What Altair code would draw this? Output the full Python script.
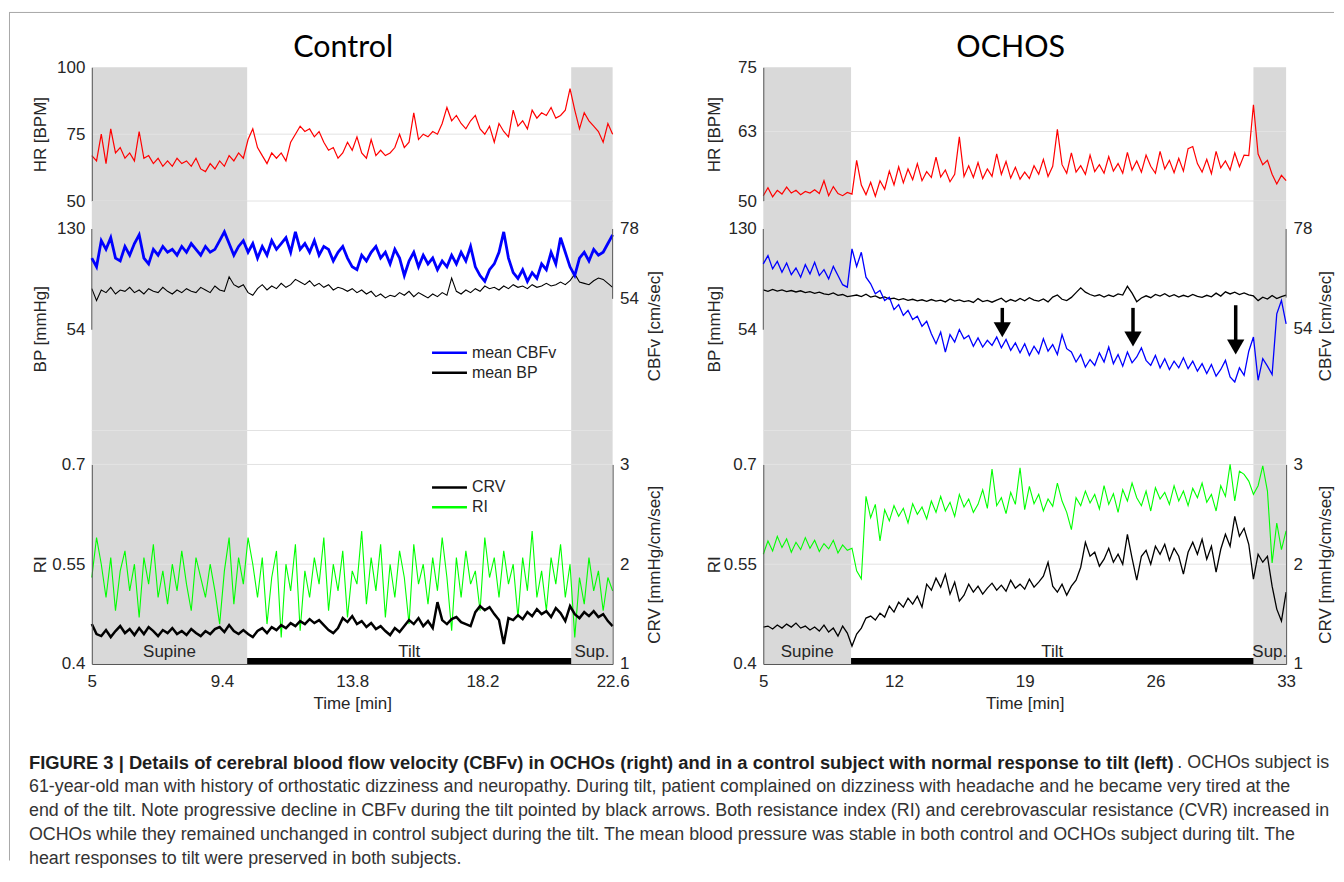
import altair as alt
import pandas as pd

# ---------------- Control subject (left) ----------------
ctrl_t0, ctrl_dt = 5.0, 0.16
ctrl_hr = [67, 65, 75, 64, 77, 68, 70, 66, 68, 65,
           76, 66, 67, 64, 66, 63, 65, 63, 66, 64,
           65, 63, 66, 62, 61, 64, 62, 65, 63, 67,
           65, 68, 66, 73, 77, 70, 67, 64, 68, 66,
           68, 65, 72, 75, 78, 76, 77, 74, 76, 72,
           69, 70, 66, 68, 72, 69, 74, 68, 66, 73,
           67, 69, 67, 68, 70, 75, 70, 72, 83, 73,
           75, 74, 76, 75, 79, 85, 80, 82, 79, 77,
           80, 82, 77, 75, 78, 72, 79, 76, 74, 84,
           78, 80, 77, 84, 81, 83, 82, 85, 81, 82,
           84, 92, 84, 77, 83, 80, 78, 76, 72, 79,
           75]
ctrl_cbfv = [68, 65, 74, 71, 75, 68, 67, 72, 69, 73,
             76, 68, 66, 71, 69, 72, 70, 71, 69, 72,
             70, 73, 71, 69, 72, 70, 71, 74, 77, 73,
             69, 72, 74, 70, 73, 68, 72, 69, 74, 71,
             73, 75, 70, 77, 71, 73, 70, 74, 69, 72,
             71, 67, 70, 72, 68, 65, 64, 69, 67, 70,
             72, 68, 70, 66, 71, 68, 62, 67, 70, 65,
             69, 66, 68, 64, 67, 65, 69, 66, 70, 67,
             72, 65, 62, 60, 64, 66, 70, 77, 68, 63,
             61, 64, 60, 63, 61, 66, 64, 70, 66, 75,
             70, 65, 62, 68, 70, 67, 71, 69, 70, 73,
             76]
ctrl_bp = [85, 76, 84, 82, 86, 81, 84, 83, 86, 82,
           84, 81, 85, 83, 82, 86, 83, 81, 84, 82,
           85, 83, 82, 86, 84, 82, 87, 84, 83, 94,
           88, 86, 88, 82, 80, 85, 88, 84, 87, 85,
           89, 86, 88, 92, 90, 88, 91, 87, 89, 86,
           88, 84, 86, 85, 83, 85, 82, 84, 81, 83,
           79, 81, 78, 80, 79, 82, 80, 83, 79, 82,
           80, 78, 81, 79, 82, 80, 93, 83, 81, 84,
           82, 85, 83, 87, 85, 86, 84, 87, 85, 88,
           86, 87, 85, 88, 86, 87, 89, 87, 88, 90,
           88, 91, 96, 90, 89, 88, 91, 93, 92, 89,
           86]
ctrl_ri = [0.53, 0.59, 0.55, 0.50, 0.56, 0.48, 0.54, 0.57, 0.51, 0.55,
           0.47, 0.56, 0.52, 0.58, 0.50, 0.54, 0.49, 0.55, 0.51, 0.57,
           0.52, 0.48, 0.56, 0.53, 0.50, 0.55, 0.51, 0.46, 0.54, 0.59,
           0.49, 0.56, 0.52, 0.59, 0.55, 0.50, 0.56, 0.46, 0.53, 0.57,
           0.44, 0.55, 0.51, 0.58, 0.45, 0.54, 0.50, 0.56, 0.52, 0.59,
           0.48, 0.55, 0.51, 0.57, 0.47, 0.54, 0.52, 0.60, 0.49, 0.56,
           0.51, 0.58, 0.47, 0.55, 0.50, 0.57, 0.53, 0.46, 0.58, 0.52,
           0.55, 0.49, 0.56, 0.51, 0.59, 0.53, 0.45, 0.56, 0.50, 0.57,
           0.52, 0.54, 0.48, 0.59, 0.53, 0.56, 0.50, 0.57, 0.52, 0.55,
           0.47, 0.56, 0.51, 0.60, 0.50, 0.54, 0.48, 0.56, 0.52, 0.58,
           0.50, 0.55, 0.44, 0.53, 0.49, 0.56, 0.51, 0.54, 0.48, 0.53,
           0.51]
ctrl_crv = [1.40, 1.30, 1.28, 1.34, 1.27, 1.33, 1.38, 1.31, 1.35, 1.29,
            1.36, 1.30, 1.37, 1.33, 1.28, 1.34, 1.31, 1.36, 1.30, 1.33,
            1.29, 1.35, 1.31, 1.28, 1.33, 1.30, 1.35, 1.37, 1.32, 1.39,
            1.33, 1.30, 1.34, 1.30, 1.27, 1.33, 1.36, 1.31, 1.37, 1.34,
            1.39, 1.36, 1.41, 1.38, 1.43, 1.40, 1.45, 1.41, 1.44, 1.39,
            1.34, 1.31, 1.36, 1.46, 1.42, 1.48, 1.40, 1.43, 1.37, 1.41,
            1.35, 1.38, 1.33, 1.29, 1.36, 1.32, 1.38, 1.44, 1.40, 1.46,
            1.38, 1.43, 1.36, 1.62, 1.44, 1.40, 1.45, 1.47, 1.42, 1.40,
            1.38, 1.52, 1.58, 1.54, 1.57, 1.50, 1.44, 1.20, 1.46, 1.44,
            1.49, 1.45, 1.52, 1.48, 1.55, 1.50, 1.53, 1.47, 1.56, 1.51,
            1.43, 1.58, 1.50, 1.46, 1.52, 1.48, 1.53, 1.47, 1.50, 1.43,
            1.38]
ctrl_phase_name = ["Supine", "Tilt", "Sup."]
ctrl_phase_start = [5.0, 10.25, 21.2]
ctrl_phase_end = [10.25, 21.2, 22.6]

# ---------------- OCHOS subject (right) ----------------
och_t0, och_dt = 5.0, 0.25
och_hr = [51, 52.5, 50.8, 52, 51.3, 52.6, 51.5, 52, 51.2, 51.8,
          51.5, 52.1, 51.4, 53.8, 51, 52.7, 51.4, 51, 51.6, 51.3,
          57.6, 53, 51.2, 53.5, 50.9, 53.8, 52.2, 55.6, 53, 56.4,
          53.4, 56, 54, 57, 53.8, 55.5, 54.4, 58.2, 54.5, 55.8,
          53.6, 55, 62, 54.6, 56.6, 54.4, 57.2, 54.2, 56, 54.6,
          58.8, 55, 57.4, 54.3, 56.3, 54.1, 55.4, 54.2, 56.6, 55,
          57.8, 54.6, 56.5, 63.4, 56.8, 55.2, 59, 55.4, 56.6, 55,
          58.6, 55.5, 56.8, 55.2, 58.3, 55.6, 57, 55.2, 59.1, 55.8,
          57.5, 55.4, 58.6, 56.5, 55.2, 59.3, 56, 57.6, 55.3, 58,
          55.6, 59.8, 60.2, 57, 55.4, 57.8, 55.1, 59.3, 56.2, 57.5,
          55.8, 59, 56.4, 58.6, 58.5, 68, 58.8, 56.8, 57.6, 55,
          53.2, 54.8, 53.8]
och_cbfv = [69.6, 71.6, 68.4, 70.2, 67.6, 69.8, 67, 68.6, 66.4, 69.4,
            67.2, 70, 66.8, 68.2, 66, 69, 66.8, 64.6, 64, 73.2,
            69, 72.4, 66.4, 64.8, 62.4, 63.2, 60.8, 61.6, 58.6, 59.8,
            57.2, 58.4, 56.2, 57, 54.6, 55.8, 52.8, 50.4, 53.2, 48.4,
            52.6, 50.8, 53.8, 51.6, 52.4, 49.8, 51.8, 49.6, 51.2, 50,
            52, 49.4, 51.4, 48.8, 50.6, 48.2, 50.4, 47.6, 49.8, 48,
            51.6, 48.6, 50.2, 47.8, 52.6, 49.2, 48.4, 46, 47.8, 44.8,
            46.6, 45.2, 48.2, 46, 49.6, 45.6, 47.8, 45, 48.4, 45.8,
            47.2, 49.4, 46.4, 45.2, 47.6, 44.6, 46.8, 44.2, 46.2, 44.6,
            47, 44.4, 46.2, 43.8, 45.6, 43.2, 45.4, 42.6, 44.2, 46.4,
            42.4, 41.2, 44.6, 42.8, 48.6, 52, 41.6, 46.8, 45, 43,
            57.6, 60.8, 55.2]
och_bp = [84, 83, 84.5, 83.2, 84, 82.8, 83.6, 82.5, 83.4, 82,
          82.8, 81.5, 82.4, 81, 80.5, 81.8, 80, 80.6, 79, 79.6,
          80.2, 79, 80.8, 78.6, 79.5, 77.8, 78.8, 77.2, 77.8, 76.6,
          77.4, 76.2, 77, 75.8, 76.6, 75.4, 76.8, 75.6, 76.3, 75,
          77.2, 75.6, 76.5, 75.2, 76, 74.6, 77.5, 75.2, 76.2, 74.8,
          76.4, 77.8, 75, 76.8, 75.4, 77.6, 75.8, 78.2, 76.4, 75.6,
          77.2, 75, 78.6, 80.2, 77, 76, 78.4, 82, 85.6, 82.4,
          80.6, 79.4, 80.4, 78.6, 80.2, 79, 81, 80.2, 86.8, 81.6,
          75.2, 78, 79.6, 78.2, 80.6, 79.4, 81.2, 79, 80.4, 78.6,
          80, 78.8, 80.6, 79.2, 78.4, 80, 78.8, 81.6, 79.4, 82.6,
          81, 82.4, 80.6, 81.8, 80.4, 79.5, 76, 78.6, 77.2, 79.8,
          77.5, 79, 80.2]
och_ri = [0.565, 0.585, 0.570, 0.592, 0.575, 0.588, 0.568, 0.583, 0.572, 0.590,
          0.574, 0.586, 0.569, 0.581, 0.573, 0.586, 0.567, 0.579, 0.571, 0.574,
          0.540, 0.528, 0.652, 0.620, 0.640, 0.585, 0.632, 0.615, 0.638, 0.622,
          0.634, 0.612, 0.641, 0.625, 0.636, 0.618, 0.645, 0.628, 0.652, 0.630,
          0.643, 0.622, 0.655, 0.636, 0.648, 0.628, 0.640, 0.662, 0.634, 0.693,
          0.638, 0.650, 0.626, 0.658, 0.640, 0.695, 0.632, 0.667, 0.641, 0.655,
          0.630, 0.648, 0.637, 0.672, 0.645, 0.628, 0.602, 0.650, 0.638, 0.660,
          0.642, 0.655, 0.633, 0.668, 0.640, 0.656, 0.628, 0.662, 0.645, 0.672,
          0.650, 0.638, 0.660, 0.630, 0.665, 0.648, 0.658, 0.640, 0.668, 0.645,
          0.660, 0.638, 0.664, 0.650, 0.672, 0.643, 0.655, 0.630, 0.668, 0.652,
          0.700, 0.645, 0.690, 0.685, 0.675, 0.655, 0.668, 0.698, 0.660, 0.552,
          0.612, 0.572, 0.600]
och_crv = [1.37, 1.38, 1.35, 1.39, 1.36, 1.40, 1.37, 1.41, 1.36, 1.38,
           1.34, 1.37, 1.33, 1.39, 1.32, 1.36, 1.28, 1.38, 1.31, 1.18,
           1.30, 1.36, 1.46, 1.48, 1.44, 1.51, 1.47, 1.58, 1.52, 1.62,
           1.57, 1.66, 1.60, 1.68, 1.57, 1.80, 1.74, 1.86, 1.77, 1.90,
           1.70, 1.82, 1.63, 1.69, 1.80, 1.72, 1.78, 1.70, 1.76, 1.81,
           1.74, 1.79, 1.73, 1.84, 1.76, 1.80, 1.75, 1.85, 1.77, 1.82,
           1.88, 2.02, 1.78, 1.72, 1.80, 1.69, 1.78, 1.84, 1.97, 2.22,
           2.08, 2.12, 1.98, 2.05, 2.16, 2.02, 2.10, 2.00, 2.30, 2.06,
           1.84, 2.08, 2.14, 2.00, 2.18, 2.10, 2.20, 2.04, 2.16, 2.08,
           1.90, 2.12, 2.22, 2.10, 2.25, 2.05, 2.18, 1.92, 2.15, 2.30,
           2.18, 2.48, 2.28, 2.36, 2.20, 1.85, 2.10, 2.02, 2.08, 1.78,
           1.55, 1.43, 1.72]
och_phase_name = ["Supine", "Tilt", "Sup."]
och_phase_start = [5.0, 9.7, 31.25]
och_phase_end = [9.7, 31.25, 33.0]
och_arrow_t = [17.8, 24.8, 30.3]
och_arrow_top = [70.5, 70.5, 72.5]
och_arrow_head = [54.0, 47.0, 41.0]

# ---------------- axis ticks / labels ----------------
ctrl_x_ticks = [5, 9.4, 13.8, 18.2, 22.6]
och_x_ticks = [5, 12, 19, 26, 33]
ctrl_hr_ticks = [50, 75, 100]
och_hr_ticks = [50, 63, 75]
ctrl_hr_grid = [50, 75]
och_hr_grid = [50, 63]
bp_ticks = [54, 130]
cbfv_ticks = [54, 78]
ri_ticks = [0.4, 0.55, 0.7]
ri_grid = [0.55, 0.7]
crv_ticks = [1, 2, 3]

caption_bold = ("FIGURE 3 | Details of cerebral blood flow velocity (CBFv) in OCHOs (right) "
                "and in a control subject with normal response to tilt (left)")
caption_tail = ". OCHOs subject is"
caption_lines = [
    "61-year-old man with history of orthostatic dizziness and neuropathy. During tilt, patient complained on dizziness with headache and he became very tired at the",
    "end of the tilt. Note progressive decline in CBFv during the tilt pointed by black arrows. Both resistance index (RI) and cerebrovascular resistance (CVR) increased in",
    "OCHOs while they remained unchanged in control subject during the tilt. The mean blood pressure was stable in both control and OCHOs subject during tilt. The",
    "heart responses to tilt were preserved in both subjects.",
]

# ---------------- styling ----------------
FONT = "Liberation Sans"
TXT = "#262626"
SHADE = "#d9d9d9"
GRID = "#e2e2e2"
AXC = "#555555"
H_HR, H_BP, H_RI = 134, 264, 200
ONE = pd.DataFrame({"a": [0]})
LABEL_EXPR = "'' + datum.value"


def yaxis(title, values, orient, tx, ty, domain=True):
    return alt.Axis(values=values, title=title, orient=orient, ticks=False, tickSize=0,
                    labelPadding=7, labelFont=FONT, labelFontSize=17, labelColor=TXT,
                    labelExpr=LABEL_EXPR,
                    titleFont=FONT, titleFontSize=17, titleFontWeight="normal",
                    titleColor=TXT, titleX=tx, titleY=ty, titleAngle=270,
                    titleAlign="center", titleBaseline="middle", grid=False,
                    domain=domain, domainColor=AXC, zindex=1)


def panels(c):
    n = len(c["hr"])
    t = [c["t0"] + i * c["dt"] for i in range(n)]
    df = pd.DataFrame({"t": t, "hr": c["hr"], "bp": c["bp"], "cbfv": c["cbfv"],
                       "ri": c["ri"], "crv": c["crv"]})
    ph = pd.DataFrame({"name": c["ph_name"], "start": c["ph_start"], "end": c["ph_end"]})
    ph["mid"] = (ph["start"] + ph["end"]) / 2
    W = c["W"]
    xs = alt.Scale(domain=c["xdom"], nice=False, zero=False)

    def xn(f):
        return alt.X(f, type="quantitative", scale=xs, axis=None)

    def shade(H, xenc):
        return (alt.Chart(ph).transform_filter("datum.name != 'Tilt'")
                .mark_rect(color=SHADE)
                .encode(x=xenc("start"), x2="end", y=alt.value(0), y2=alt.value(H)))

    # ---- HR panel ----
    hr_sc = alt.Scale(domain=c["hr_dom"], nice=False, zero=False)
    hr_ax = yaxis("HR [BPM]", c["hr_ticks"], "left", c["tx_l"], H_HR / 2)

    def hy(f):
        return alt.Y(f, type="quantitative", scale=hr_sc, axis=hr_ax)

    hr_layers = [
        shade(H_HR, xn),
        alt.Chart(pd.DataFrame({"g": c["hr_grid"]})).mark_rule(color=GRID).encode(y=hy("g")),
        alt.Chart(df).mark_line(color="#ff0000", strokeWidth=1.2).encode(x=xn("t"), y=hy("hr")),
        alt.Chart(ONE).mark_text(text=c["title"], font="Lato", fontSize=30.5, color="#000000",
                                 baseline="middle", align="center")
        .encode(x=alt.value(c["title_x"]), y=alt.value(-19)),
    ]
    if c["frame"]:
        hr_layers.append(alt.Chart(ONE).mark_rule(color="#a8a8a8").encode(
            x=alt.value(-83), x2=alt.value(1245), y=alt.value(-55)))
        hr_layers.append(alt.Chart(ONE).mark_rule(color="#a8a8a8").encode(
            x=alt.value(-82.5), y=alt.value(-55), y2=alt.value(795)))
    hr_panel = alt.layer(*hr_layers).properties(width=W, height=H_HR)

    # ---- BP / CBFv panel ----
    bp_sc = alt.Scale(domain=[-47.6, 151.1], nice=False, zero=False)
    bp_ax = yaxis("BP [mmHg]", bp_ticks, "left", c["tx_l"], 128, domain=False)
    cb_sc = alt.Scale(domain=c["cbfv_dom"], nice=False, zero=False)
    cb_ax = yaxis("CBFv [cm/sec]", cbfv_ticks, "right", c["tx_r"], 125, domain=False)

    def by(f):
        return alt.Y(f, type="quantitative", scale=bp_sc, axis=bp_ax)

    def cy(f):
        return alt.Y(f, type="quantitative", scale=cb_sc, axis=cb_ax)

    left = [
        shade(H_BP, xn),
        alt.Chart(ONE).mark_rule(color=GRID).encode(x=alt.value(0), x2=alt.value(W), y=alt.value(230)),
        alt.Chart(df).mark_line(color="#000000", strokeWidth=c["lw_bp"]).encode(x=xn("t"), y=by("bp")),
        alt.Chart(pd.DataFrame({"lo": [bp_ticks[0]], "hi": [bp_ticks[1]]})).mark_rule(color=AXC)
        .encode(x=alt.value(0), y=by("lo"), y2="hi"),
    ]
    if c["arrows"]:
        ar = pd.DataFrame({"t": och_arrow_t, "top": och_arrow_top, "head": och_arrow_head})
        left.append(alt.Chart(ar).mark_rule(color="#000000", strokeWidth=3.5)
                    .encode(x=xn("t"), y=by("top"), y2="head"))
        left.append(alt.Chart(ar).mark_point(shape="triangle-down", filled=True, size=300,
                                             color="#000000", opacity=1)
                    .encode(x=xn("t"), y=by("head")))
    if c["legend"]:
        for ypix, col, lw, lab in [(152, "#0000ff", 2.5, "mean CBFv"), (172, "#000000", 2.5, "mean BP")]:
            left.append(alt.Chart(ONE).mark_rule(color=col, strokeWidth=lw).encode(
                x=alt.value(341), x2=alt.value(376), y=alt.value(ypix)))
            left.append(alt.Chart(ONE).mark_text(text=lab, align="left", baseline="middle",
                                                 font=FONT, fontSize=16, color=TXT)
                        .encode(x=alt.value(381), y=alt.value(ypix)))
    right = [
        alt.Chart(df).mark_line(color="#0000ff", strokeWidth=c["lw_cbfv"]).encode(x=xn("t"), y=cy("cbfv")),
        alt.Chart(pd.DataFrame({"lo": [c["cbfv_br"][0]], "hi": [c["cbfv_br"][1]]})).mark_rule(color=AXC)
        .encode(x=alt.value(W), y=cy("lo"), y2="hi"),
    ]
    bp_panel = (alt.layer(alt.layer(*left), alt.layer(*right))
                .resolve_scale(y="independent").properties(width=W, height=H_BP))

    # ---- RI / CRV panel ----
    x_ax = alt.Axis(values=c["xticks"], labelExpr=LABEL_EXPR, title="Time [min]", ticks=False,
                    tickSize=0, labelPadding=10, labelFont=FONT, labelFontSize=17, labelColor=TXT,
                    labelFlush=False, titleFont=FONT, titleFontSize=17, titleFontWeight="normal",
                    titleColor=TXT, titleY=40, titleBaseline="middle", grid=False,
                    domainColor=AXC, zindex=1)

    def xa(f):
        return alt.X(f, type="quantitative", scale=xs, axis=x_ax)

    ri_sc = alt.Scale(domain=[0.4, 0.7], nice=False, zero=False)
    ri_ax = yaxis("RI", ri_ticks, "left", c["tx_l"], H_RI / 2)
    crv_sc = alt.Scale(domain=[1, 3], nice=False, zero=False)
    crv_ax = yaxis("CRV [mmHg/cm/sec]", crv_ticks, "right", c["tx_r"], H_RI / 2)

    def ry(f):
        return alt.Y(f, type="quantitative", scale=ri_sc, axis=ri_ax)

    def vy(f):
        return alt.Y(f, type="quantitative", scale=crv_sc, axis=crv_ax)

    left2 = [
        shade(H_RI, xa),
        alt.Chart(pd.DataFrame({"g": ri_grid})).mark_rule(color=GRID).encode(y=ry("g")),
        alt.Chart(df).mark_line(color="#00ff00", strokeWidth=1.1).encode(x=xa("t"), y=ry("ri")),
        alt.Chart(ph).transform_filter("datum.name == 'Tilt'").mark_rect(color="#000000")
        .encode(x=xa("start"), x2="end", y=alt.value(194), y2=alt.value(200)),
        alt.Chart(ph).mark_text(font=FONT, fontSize=17, color=TXT, baseline="middle")
        .encode(x=xa("mid"), y=alt.value(188), text="name:N"),
    ]
    if c["legend"]:
        for ypix, col, lw, lab in [(23, "#000000", 2.5, "CRV"), (43, "#00ff00", 2.5, "RI")]:
            left2.append(alt.Chart(ONE).mark_rule(color=col, strokeWidth=lw).encode(
                x=alt.value(341), x2=alt.value(376), y=alt.value(ypix)))
            left2.append(alt.Chart(ONE).mark_text(text=lab, align="left", baseline="middle",
                                                  font=FONT, fontSize=16, color=TXT)
                         .encode(x=alt.value(381), y=alt.value(ypix)))
    right2 = [alt.Chart(df).mark_line(color="#000000", strokeWidth=c["lw_crv"]).encode(x=xa("t"), y=vy("crv"))]
    ri_panel = (alt.layer(alt.layer(*left2), alt.layer(*right2))
                .resolve_scale(y="independent").properties(width=W, height=H_RI))

    return hr_panel, bp_panel, ri_panel


ctrl_cfg = dict(t0=ctrl_t0, dt=ctrl_dt, hr=ctrl_hr, bp=ctrl_bp, cbfv=ctrl_cbfv, ri=ctrl_ri, crv=ctrl_crv,
                ph_name=ctrl_phase_name, ph_start=ctrl_phase_start, ph_end=ctrl_phase_end,
                W=522, xdom=[5, 22.6], xticks=ctrl_x_ticks, hr_dom=[50, 100], hr_ticks=ctrl_hr_ticks,
                hr_grid=ctrl_hr_grid, cbfv_dom=[-2.9, 87.6], cbfv_br=[54, 78], tx_l=-51, tx_r=42,
                title="Control", title_x=252, lw_bp=1.1, lw_cbfv=2.8, lw_crv=2.5,
                legend=True, arrows=False, frame=True)
och_cfg = dict(t0=och_t0, dt=och_dt, hr=och_hr, bp=och_bp, cbfv=och_cbfv, ri=och_ri, crv=och_crv,
               ph_name=och_phase_name, ph_start=och_phase_start, ph_end=och_phase_end,
               W=524, xdom=[5, 33], xticks=och_x_ticks, hr_dom=[50, 75], hr_ticks=och_hr_ticks,
               hr_grid=och_hr_grid, cbfv_dom=[21.36, 84.72], cbfv_br=[61.5, 78], tx_l=-49, tx_r=39,
               title="OCHOS", title_x=248, lw_bp=1.3, lw_cbfv=1.3, lw_crv=1.3,
               legend=False, arrows=True, frame=False)

hrL, bpL, riL = panels(ctrl_cfg)
hrR, bpR, riR = panels(och_cfg)

# ---------------- caption ----------------
CAP_FS = 17.9
CAP_FS_BOLD = 18.4
cap_y = alt.Scale(domain=[0, 4], range=[99, 195])
cap_rows = pd.DataFrame({"row": [1, 2, 3, 4], "text": caption_lines})
cap_bold = (alt.Chart(pd.DataFrame({"row": [0], "text": [caption_bold]}))
            .mark_text(align="left", baseline="middle", font=FONT, fontSize=CAP_FS_BOLD,
                       fontWeight="bold", color="#1e1e1e")
            .encode(x=alt.value(-63), y=alt.Y("row:Q", scale=cap_y, axis=None), text="text:N"))
cap_tail = (alt.Chart(pd.DataFrame({"row": [0], "text": [caption_tail]}))
            .mark_text(align="left", baseline="middle", font=FONT, fontSize=CAP_FS, color="#333333")
            .encode(x=alt.value(1088), y=alt.Y("row:Q", scale=cap_y, axis=None), text="text:N"))
cap_reg = (alt.Chart(cap_rows)
           .mark_text(align="left", baseline="middle", font=FONT, fontSize=CAP_FS, color="#333333")
           .encode(x=alt.value(-63), y=alt.Y("row:Q", scale=cap_y, axis=None), text="text:N"))
caption = alt.layer(cap_bold, cap_tail, cap_reg).properties(width=500, height=40)

chart = (alt.concat(hrL, hrR, bpL, bpR, riL, riR, caption, columns=2,
                    spacing={"row": 0, "column": 151}, bounds="flush")
         .properties(padding={"left": 0, "top": 2.5, "right": 1, "bottom": 0}, background="#ffffff")
         .configure_view(strokeWidth=0))

chart.save("out.html", embed_options={"renderer": "svg", "actions": False})
